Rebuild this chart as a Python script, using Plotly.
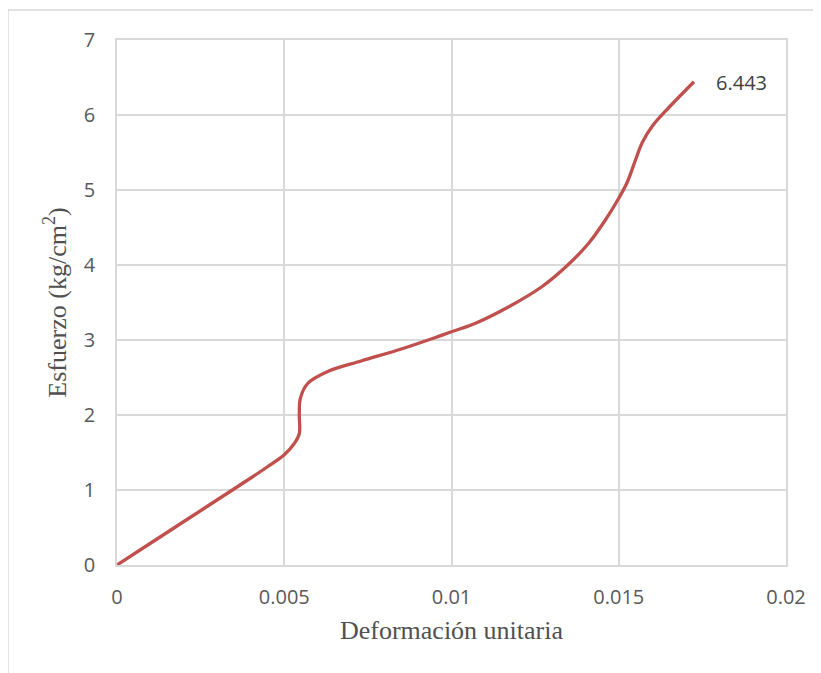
import plotly.graph_objects as go

strain = [0, 0.001, 0.002, 0.003, 0.004, 0.0045, 0.005, 0.0053, 0.00545, 0.00545,
          0.00548, 0.0057, 0.0063, 0.0073, 0.0085, 0.0095, 0.01, 0.0107, 0.0117, 0.0127,
          0.0135, 0.0141, 0.0146, 0.015, 0.01525, 0.0155, 0.0157, 0.016, 0.0165, 0.01725]
stress = [0, 0.29, 0.58, 0.87, 1.16, 1.31, 1.47, 1.62, 1.75, 2.0,
          2.22, 2.42, 2.58, 2.72, 2.88, 3.03, 3.11, 3.22, 3.44, 3.71,
          4.01, 4.29, 4.6, 4.89, 5.1, 5.4, 5.63, 5.85, 6.1, 6.443]
x_ticks = [0, 0.005, 0.01, 0.015, 0.02]
x_tick_labels = ["0", "0.005", "0.01", "0.015", "0.02"]
y_ticks = [0, 1, 2, 3, 4, 5, 6, 7]
last_label = "6.443"

grid = "#d9d9d9"
tickfont = dict(family="Open Sans", size=20, color="#595959")
titlefont = dict(family="Liberation Serif", size=26, color="#505050")

fig = go.Figure()
fig.add_trace(go.Scatter(
    x=strain, y=stress, mode="lines",
    line=dict(color="#C0504D", width=3.3, shape="spline", smoothing=1.0),
    showlegend=False, hoverinfo="skip"))

fig.add_annotation(x=strain[-1], y=stress[-1], text=last_label, showarrow=False,
                   xanchor="left", yanchor="middle", xshift=20, yshift=-1,
                   font=dict(family="Open Sans", size=20, color="#404040"))

fig.update_layout(
    width=821, height=673,
    margin=dict(l=109, r=43, t=32, b=116),
    paper_bgcolor="white", plot_bgcolor="white",
    xaxis=dict(range=[0, 0.02], tickvals=x_ticks, ticktext=x_tick_labels,
               showgrid=True, gridcolor=grid, gridwidth=1.5, zeroline=False,
               showline=True, linecolor=grid, linewidth=1.5, mirror=True,
               ticks="", tickfont=tickfont, ticklabelstandoff=13,
               title=dict(text="Deformación unitaria", font=titlefont, standoff=12)),
    yaxis=dict(range=[0, 7], tickvals=y_ticks,
               showgrid=True, gridcolor=grid, gridwidth=1.5, zeroline=False,
               showline=True, linecolor=grid, linewidth=1.5, mirror=True,
               ticks="", tickfont=tickfont, ticklabelstandoff=16,
               title=dict(text="Esfuerzo (kg/cm<sup>2</sup>)", font=titlefont, standoff=10)),
    shapes=[dict(type="rect", xref="paper", yref="paper",
                 x0=-0.163, x1=1.2, y0=-0.4, y1=1.057,
                 line=dict(color=grid, width=1.5), layer="below")],
)

fig.write_html("out.html")
